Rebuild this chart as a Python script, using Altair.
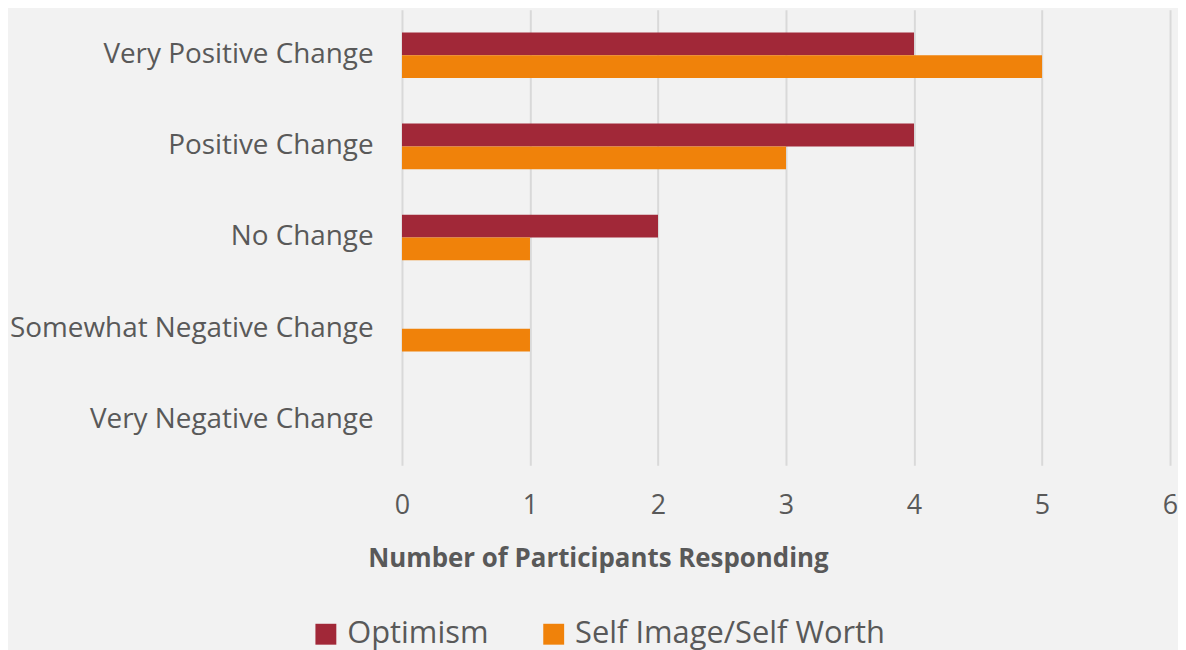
import altair as alt
import pandas as pd

categories = ["Very Positive Change", "Positive Change", "No Change",
              "Somewhat Negative Change", "Very Negative Change"]
series_names = ["Optimism", "Self Image/Self Worth"]
optimism = [4, 4, 2, 0, 0]
self_image = [5, 3, 1, 1, 0]
colors = ["#A12838", "#F0820A"]
x_ticks = [0, 1, 2, 3, 4, 5, 6]

rows = []
for c, o, s in zip(categories, optimism, self_image):
    rows.append({"cat": c, "series": series_names[0], "value": o})
    rows.append({"cat": c, "series": series_names[1], "value": s})
df = pd.DataFrame(rows)

FONT = "Open Sans"
TXT = "#595959"

chart = alt.Chart(df).mark_bar().encode(
    x=alt.X("value:Q",
            scale=alt.Scale(domain=[0, 6], nice=False),
            axis=alt.Axis(values=x_ticks, format="d", title="Number of Participants Responding",
                          grid=True, gridColor="#D9D9D9", gridWidth=2,
                          ticks=False, domain=False, labelFlush=False,
                          labelFont=FONT, labelFontSize=27, labelColor=TXT,
                          labelBaseline="middle", labelPadding=40,
                          titleFont=FONT, titleFontSize=26, titleFontWeight="bold",
                          titleColor=TXT, titleX=197, titleY=94,
                          titleAlign="center", titleBaseline="middle")),
    y=alt.Y("cat:N", sort=categories,
            scale=alt.Scale(paddingInner=0.5, paddingOuter=0.25),
            axis=alt.Axis(title=None, ticks=False, domain=False, grid=False,
                          labelFont=FONT, labelFontSize=28, labelColor=TXT,
                          labelPadding=29, labelLimit=400)),
    yOffset=alt.YOffset("series:N", sort=series_names),
    color=alt.Color("series:N", sort=series_names,
                    scale=alt.Scale(domain=series_names, range=colors),
                    legend=alt.Legend(title=None, orient="none", direction="horizontal",
                                      legendX=-92, legendY=612,
                                      symbolType="square", symbolSize=441,
                                      symbolStrokeWidth=0, symbolOpacity=1,
                                      labelFont=FONT, labelFontSize=31, labelColor=TXT,
                                      labelOffset=6, columnPadding=50, labelLimit=500)),
).properties(
    width=772, height=458,
    autosize=alt.AutoSizeParams(type="none"),
    padding={"left": 396, "top": 0, "right": 8, "bottom": 200},
).configure(
    background="#F2F2F2",
).configure_view(stroke=None)

chart.save("out.html", embed_options={"renderer": "svg", "actions": False})
